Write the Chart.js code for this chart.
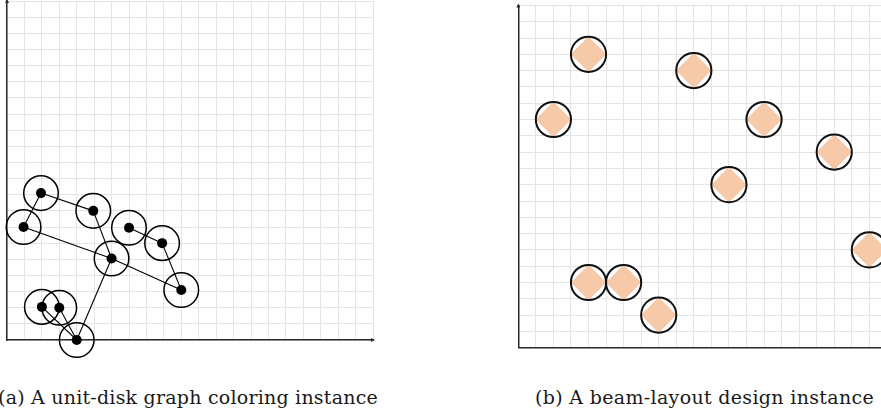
<!DOCTYPE html>
<html>
<head>
<meta charset="utf-8">
<script src="https://cdn.jsdelivr.net/npm/chart.js@4.4.1/dist/chart.umd.min.js"></script>
<style>
  html, body { margin: 0; padding: 0; background: #fff; overflow: hidden; width: 881px; height: 409px; }
  canvas { position: absolute; top: 0; }
  #left { left: 0; }
  #right { left: 500px; }
  .caption {
    position: absolute;
    top: 385px;
    font-family: "DejaVu Serif", serif;
    font-size: 19px;
    line-height: 24px;
    color: #1a1a1a;
    white-space: nowrap;
  }
</style>
</head>
<body>
<canvas id="left" width="400" height="375"></canvas>
<canvas id="right" width="420" height="375"></canvas>
<div class="caption" id="cap-a">(a) A unit-disk graph coloring instance</div>
<div class="caption" id="cap-b">(b) A beam-layout design instance</div>

<script>
// (a) unit-disk graph: node centres and edges (pairs of node indices)
const nodeX = [1.95, 0.95, 4.95, 7.0, 8.9, 6.0, 10.0, 2.0, 3.0, 4.0];
const nodeY = [9.1, 7.0, 8.0, 6.95, 6.0, 5.05, 3.1, 2.05, 2.0, 0.0];
const edges = [[0, 1], [0, 2], [1, 5], [2, 5], [5, 6], [5, 9], [3, 4], [4, 6], [7, 9], [8, 9]];

// (b) beam layout: beam centres
const beamX = [4, 2, 10, 14, 18, 12, 20, 4, 6, 8];
const beamY = [18, 14, 17, 14, 12, 10, 6, 4, 4, 2];

// both panels use a 0..21 grid
const axisMin = 0;
const axisMax = 21;

const gridColor = "#e4e4e4";
const axisColor = "#2a2a2a";
const beamFill = "rgb(246,201,169)";

function toPoints(xs, ys) {
    return xs.map((x, i) => ({ x: x, y: ys[i] }));
}

function gridScale() {
    return {
        type: "linear",
        min: axisMin,
        max: axisMax,
        ticks: { display: false, stepSize: 1, maxTicksLimit: 100 },
        grid: { color: gridColor, lineWidth: 1, drawTicks: false },
        border: { display: true, color: axisColor, width: 1.5 }
    };
}

// little arrow heads at the ends of the axes
const axisArrows = {
    id: "axisArrows",
    afterDraw(chart) {
        const a = chart.chartArea;
        const c = chart.ctx;
        c.save();
        c.fillStyle = axisColor;
        c.beginPath();
        c.moveTo(a.left, a.top - 2);
        c.lineTo(a.left - 2, a.top + 2);
        c.lineTo(a.left + 2, a.top + 2);
        c.closePath();
        c.fill();
        c.beginPath();
        c.moveTo(a.right + 2, a.bottom);
        c.lineTo(a.right - 2, a.bottom - 2);
        c.lineTo(a.right - 2, a.bottom + 2);
        c.closePath();
        c.fill();
        c.restore();
    }
};

function baseOptions(padding) {
    return {
        responsive: false,
        animation: false,
        events: [],
        layout: { padding: padding, autoPadding: false },
        plugins: { legend: { display: false }, tooltip: { enabled: false } },
        scales: { x: gridScale(), y: gridScale() }
    };
}

// ---- (a) ----
var leftSets = [];

leftSets.push({
    label: "nodes",
    data: toPoints(nodeX, nodeY),
    pointStyle: "circle",
    pointRadius: 5,
    backgroundColor: "#000",
    borderColor: "#000",
    borderWidth: 0,
    clip: false
});

leftSets.push({
    label: "disks",
    data: toPoints(nodeX, nodeY),
    pointStyle: "circle",
    pointRadius: 17.3,
    backgroundColor: "rgba(0,0,0,0)",
    borderColor: "#000",
    borderWidth: 1.5,
    clip: false
});

edges.forEach(function (e) {
    leftSets.push({
        label: "edge",
        data: [{ x: nodeX[e[0]], y: nodeY[e[0]] }, { x: nodeX[e[1]], y: nodeY[e[1]] }],
        showLine: true,
        pointRadius: 0,
        borderColor: "#000",
        borderWidth: 1.1,
        clip: false
    });
});

new Chart(document.getElementById("left"), {
    type: "scatter",
    data: { datasets: leftSets },
    options: baseOptions({ left: 7, top: 1, right: 27, bottom: 35 }),
    plugins: [axisArrows]
});

// ---- (b) ----
new Chart(document.getElementById("right"), {
    type: "scatter",
    data: {
        datasets: [
            {
                label: "beam outline",
                data: toPoints(beamX, beamY),
                pointStyle: "circle",
                pointRadius: 17.6,
                backgroundColor: "rgba(0,0,0,0)",
                borderColor: "#111",
                borderWidth: 2,
                clip: false
            },
            {
                label: "beam",
                data: toPoints(beamX, beamY),
                pointStyle: "rectRot",
                pointRadius: 17.8,
                backgroundColor: beamFill,
                borderColor: beamFill,
                borderWidth: 0,
                clip: false
            }
        ]
    },
    options: baseOptions({ left: 18.3, top: 5.4, right: 33.1, bottom: 27.3 }),
    plugins: [axisArrows]
});

// stretch captions to the width they have in the figure
function fitCaption(id, centre, width) {
    const el = document.getElementById(id);
    const n = el.textContent.length;
    const natural = el.getBoundingClientRect().width;
    el.style.letterSpacing = ((width - natural) / n) + "px";
    const w = el.getBoundingClientRect().width;
    el.style.left = (centre - w / 2) + "px";
}

fitCaption("cap-a", 188, 380);
fitCaption("cap-b", 704.5, 339);
</script>
</body>
</html>
